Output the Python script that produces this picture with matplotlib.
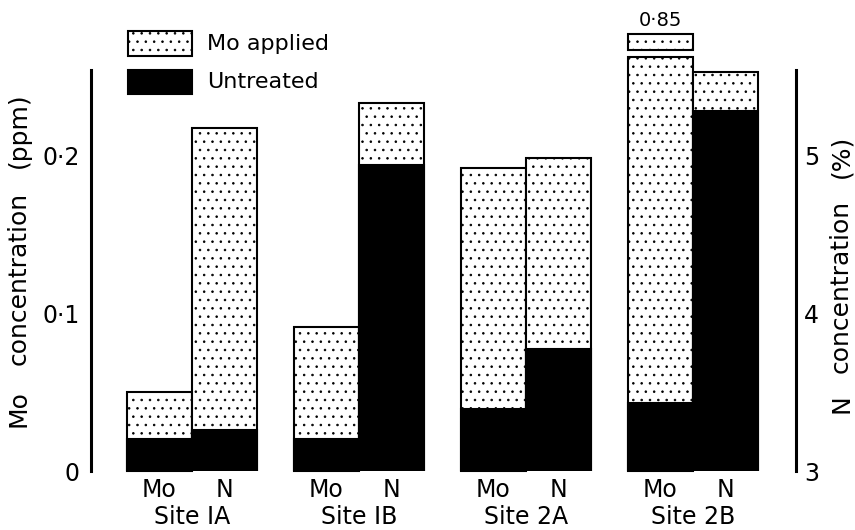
import numpy as np
import matplotlib.pyplot as plt
from matplotlib.patches import Rectangle

plt.rcParams['font.family'] = ['DejaVu Sans']
plt.rcParams['hatch.linewidth'] = 0.6

# values
sites = ["Site IA", "Site IB", "Site 2A", "Site 2B"]
mo_applied = [0.050, 0.091, 0.192, 0.85]     # ppm
mo_untreated = [0.020, 0.020, 0.039, 0.043]  # ppm
n_applied = [5.17, 5.33, 4.98, 5.53]         # %
n_untreated = [3.26, 4.94, 3.77, 5.28]       # %
mo_break = 0.262   # Site 2B Mo bar is cut here (real value printed above)

w = 0.39
groups = np.arange(len(sites))
x_mo = groups - w / 2
x_n = groups + w / 2

fig = plt.figure(figsize=(8.55, 5.3), dpi=100)
ax = fig.add_axes([0.1064, 0.1113, 0.8246, 0.7566])
ax.set_xlim(-0.605, 3.617)
ax.set_ylim(0, 0.254)
ax2 = ax.twinx()
ax2.set_ylim(3, 5.54)

stip = dict(color="white", edgecolor="black", hatch="..", linewidth=1.5)
solid = dict(color="black", edgecolor="black", linewidth=1.5)

# Mo bars (left axis)
ax.bar(x_mo, np.minimum(mo_applied, mo_break), width=w, clip_on=False, **stip)
ax.bar(x_mo, mo_untreated, width=w, **solid)

# N bars (right axis)
ax2.bar(x_n, np.array(n_applied) - 3, bottom=3, width=w, **stip)
ax2.bar(x_n, np.array(n_untreated) - 3, bottom=3, width=w, **solid)

# broken top of Site 2B Mo bar
ax.add_patch(Rectangle((x_mo[3] - w / 2, 0.2665), w, 0.0105, clip_on=False,
                       facecolor="white", edgecolor="black", hatch="..", lw=1.5))
ax.text(x_mo[3], 0.2855, f"{mo_applied[3]:.2f}".replace(".", "·"),
        ha="center", va="center", fontsize=14)

# legend drawn by hand
ax.add_patch(Rectangle((-0.383, 0.263), 0.383, 0.016, clip_on=False,
                       facecolor="white", edgecolor="black", hatch="..", lw=1.5))
ax.add_patch(Rectangle((-0.383, 0.239), 0.383, 0.015, clip_on=False,
                       facecolor="black", edgecolor="black", lw=1.5))
ax.text(0.09, 0.2705, "Mo applied", ha="left", va="center", fontsize=16)
ax.text(0.09, 0.2465, "Untreated", ha="left", va="center", fontsize=16)

# category labels under the bars
for i, s in enumerate(sites):
    ax.text(x_mo[i], -0.012, "Mo", ha="center", va="center", fontsize=17, clip_on=False)
    ax.text(x_n[i], -0.012, "N", ha="center", va="center", fontsize=17, clip_on=False)
    ax.text(groups[i], -0.029, s, ha="center", va="center", fontsize=17, clip_on=False)

ax.set_xticks([])
ax.set_yticks([0, 0.1, 0.2], ["0", "0·1", "0·2"])
ax.tick_params(axis="y", length=0, pad=8, labelsize=17)
ax2.set_yticks([3, 4, 5], ["3", "4", "5"])
ax2.tick_params(axis="y", length=0, pad=6, labelsize=17)

for a in (ax, ax2):
    for side in ("top", "bottom"):
        a.spines[side].set_visible(False)
ax.spines["right"].set_visible(False)
ax2.spines["left"].set_visible(False)
ax.spines["left"].set_linewidth(2.2)
ax2.spines["right"].set_linewidth(2.2)

# axis titles, spaced out as in the original
for txt, ypx in (("(ppm)", 130), ("concentration", 278), ("Mo", 409)):
    fig.text(19 / 855, 1 - ypx / 530, txt, rotation=90,
             ha="center", va="center", fontsize=18)
for txt, ypx in (("(%)", 156), ("concentration", 286), ("N", 404)):
    fig.text(841 / 855, 1 - ypx / 530, txt, rotation=90,
             ha="center", va="center", fontsize=18)

fig.savefig("out.png", dpi=100)
